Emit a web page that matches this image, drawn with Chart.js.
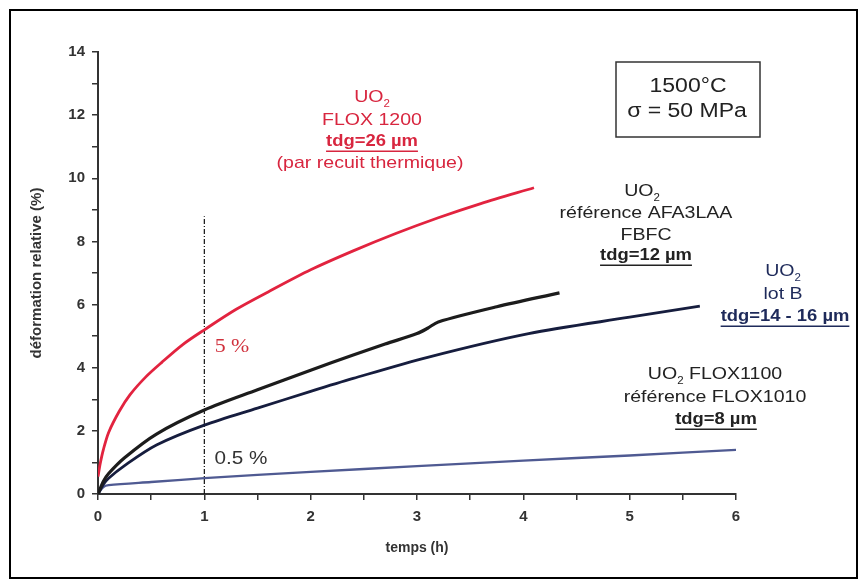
<!DOCTYPE html>
<html lang="fr">
<head>
<meta charset="UTF-8">
<title>Fluage UO2 - 1500°C / 50 MPa</title>
<script src="https://cdn.jsdelivr.net/npm/chart.js"></script>
<style>
  html, body { margin: 0; padding: 0; background: #fff; }
  #wrap { width: 866px; height: 585px; position: relative; }
</style>
</head>
<body>
<div id="wrap"><canvas id="creep"></canvas></div>
<script>
// strain curves, time in hours, strain in %
const floxRedTime   = [0, 0.02, 0.05, 0.1, 0.2, 0.3, 0.45, 0.6, 0.8, 1.0, 1.3, 1.6, 2.0, 2.4, 2.8, 3.2, 3.6, 4.1];
const floxRedStrain = [0.55, 0.95, 1.4, 1.95, 2.62, 3.14, 3.71, 4.17, 4.74, 5.2, 5.85, 6.4, 7.1, 7.7, 8.25, 8.75, 9.2, 9.7];

const afaTime   = [0, 0.05, 0.1, 0.25, 0.55, 1.0, 1.5, 2.0, 2.4, 2.7, 3.0, 3.1, 3.2, 3.75, 4.34];
const afaStrain = [0, 0.4, 0.65, 1.15, 1.9, 2.66, 3.3, 3.92, 4.4, 4.75, 5.08, 5.25, 5.45, 5.93, 6.37];

const lotBTime   = [0, 0.05, 0.1, 0.25, 0.55, 1.0, 1.5, 2.0, 2.4, 3.1, 4.05, 5.0, 5.66];
const lotBStrain = [0, 0.3, 0.5, 0.9, 1.55, 2.18, 2.72, 3.25, 3.66, 4.33, 5.08, 5.6, 5.95];

const flox1100Time   = [0, 0.05, 0.1, 0.5, 1.0, 2.0, 3.0, 4.0, 5.0, 6.0];
const flox1100Strain = [0, 0.22, 0.28, 0.38, 0.5, 0.7, 0.88, 1.06, 1.22, 1.4];

// reading line at t = 1 h
const markerTime   = [1, 1];
const markerStrain = [0, 8.8];

const xTicks = [0, 1, 2, 3, 4, 5, 6];
const yTicks = [0, 2, 4, 6, 8, 10, 12, 14];

const pts = (xs, ys) => xs.map((x, i) => ({ x: x, y: ys[i] }));

const SANS = 'Arial, "Liberation Sans", sans-serif';
const SERIF = '"Times New Roman", "Liberation Serif", serif';
const SX = 1.15; // text is drawn slightly wide

function txt(ctx, text, cx, cy, o) {
  o = Object.assign({ size: 17, weight: 'normal', color: '#222', family: SANS, underline: false }, o);
  ctx.save();
  ctx.translate(cx, cy);
  ctx.scale(SX, 1);
  ctx.font = o.weight + ' ' + o.size + 'px ' + o.family;
  ctx.fillStyle = o.color;
  ctx.textAlign = 'center';
  ctx.textBaseline = 'middle';
  ctx.fillText(text, 0, 0);
  if (o.underline) {
    const w = ctx.measureText(text).width;
    ctx.strokeStyle = o.color;
    ctx.lineWidth = 1.4;
    ctx.beginPath();
    ctx.moveTo(-w / 2, o.size * 0.58);
    ctx.lineTo(w / 2, o.size * 0.58);
    ctx.stroke();
  }
  ctx.restore();
}

// "UO" + subscript 2 + optional trailing text, centred on cx
function uo2(ctx, cx, cy, rest, o) {
  o = Object.assign({ size: 17, color: '#222' }, o);
  ctx.save();
  ctx.translate(cx, cy);
  ctx.scale(SX, 1);
  ctx.fillStyle = o.color;
  ctx.textBaseline = 'middle';
  ctx.textAlign = 'left';
  const main = 'normal ' + o.size + 'px ' + SANS;
  const sub = 'normal ' + Math.round(o.size * 0.6) + 'px ' + SANS;
  ctx.font = main;
  const w1 = ctx.measureText('UO').width;
  const w3 = rest ? ctx.measureText(rest).width : 0;
  ctx.font = sub;
  const w2 = ctx.measureText('2').width;
  let x = -(w1 + w2 + w3) / 2;
  ctx.font = main;
  ctx.fillText('UO', x, 0);
  x += w1;
  ctx.font = sub;
  ctx.fillText('2', x, o.size * 0.4);
  x += w2;
  if (rest) {
    ctx.font = main;
    ctx.fillText(rest, x, 0);
  }
  ctx.restore();
}

const annotations = {
  id: 'annotations',
  afterDraw(chart) {
    const ctx = chart.ctx;
    ctx.save();
    // outer frame
    ctx.strokeStyle = '#000';
    ctx.lineWidth = 2;
    ctx.strokeRect(10, 10, 847, 568);
    // test conditions box
    ctx.lineWidth = 1.5;
    ctx.strokeStyle = '#333';
    ctx.strokeRect(616, 62, 144, 75);
    ctx.restore();

    txt(ctx, '1500°C', 688, 86, { size: 20 });
    txt(ctx, 'σ = 50 MPa', 687, 111, { size: 20 });

    const red = '#d8263f';
    uo2(ctx, 372, 97, '', { color: red });
    txt(ctx, 'FLOX 1200', 372, 120, { color: red });
    txt(ctx, 'tdg=26 µm', 372, 142, { size: 16, color: red, weight: 'bold', underline: true });
    txt(ctx, '(par recuit thermique)', 370, 163, { color: red });

    uo2(ctx, 642, 191, '');
    txt(ctx, 'référence AFA3LAA', 646, 213);
    txt(ctx, 'FBFC', 646, 235);
    txt(ctx, 'tdg=12 µm', 646, 256, { size: 16, weight: 'bold', underline: true });

    const navy = '#1e2a5a';
    uo2(ctx, 783, 271, '', { color: navy });
    txt(ctx, 'lot B', 783, 294, { color: navy });
    txt(ctx, 'tdg=14 - 16 µm', 785, 317, { size: 16, color: navy, weight: 'bold', underline: true });

    uo2(ctx, 715, 374, ' FLOX1100');
    txt(ctx, 'référence FLOX1010', 715, 397);
    txt(ctx, 'tdg=8 µm', 716, 420, { size: 16, weight: 'bold', underline: true });

    txt(ctx, '5 %', 232, 347, { size: 19, family: SERIF, color: '#d0303c' });
    txt(ctx, '0.5 %', 241, 459, { size: 18, color: '#333' });
  }
};

const lineStyle = (color, width) => ({
  borderColor: color,
  borderWidth: width,
  pointRadius: 0,
  fill: false,
  tension: 0.3
});

new Chart(document.getElementById('creep'), {
  type: 'line',
  data: {
    datasets: [
      Object.assign({ label: 'UO2 FLOX 1200', data: pts(floxRedTime, floxRedStrain) }, lineStyle('#e2233f', 2.8)),
      Object.assign({ label: 'UO2 AFA3LAA', data: pts(afaTime, afaStrain) }, lineStyle('#1c1c1c', 3.2)),
      Object.assign({ label: 'UO2 lot B', data: pts(lotBTime, lotBStrain) }, lineStyle('#161d3e', 2.8)),
      Object.assign({ label: 'UO2 FLOX1100', data: pts(flox1100Time, flox1100Strain) }, lineStyle('#4f5a92', 2.3)),
      {
        label: 't = 1 h',
        data: pts(markerTime, markerStrain),
        borderColor: '#111',
        borderWidth: 1.2,
        borderDash: [5, 2, 1, 2],
        pointRadius: 0,
        fill: false
      }
    ]
  },
  options: {
    responsive: true,
    maintainAspectRatio: false,
    animation: false,
    layout: { padding: { top: 52, right: 130, left: 0, bottom: 0 } },
    plugins: {
      legend: { display: false },
      tooltip: { enabled: false }
    },
    scales: {
      x: {
        type: 'linear',
        min: 0,
        max: 6,
        afterFit: s => { s.height = 91; },
        afterBuildTicks: s => {
          s.ticks = [];
          for (let v = 0; v <= 6; v += 0.5) s.ticks.push({ value: v });
        },
        border: { color: '#333', width: 2 },
        grid: { drawOnChartArea: false, drawTicks: true, tickLength: 6, color: '#333', lineWidth: 1.5 },
        ticks: {
          autoSkip: false,
          maxRotation: 0,
          padding: 8,
          color: '#333',
          font: { family: SANS, size: 15, weight: 'bold' },
          callback: v => xTicks.includes(v) ? String(v) : ''
        },
        title: {
          display: true,
          text: 'temps (h)',
          color: '#333',
          font: { family: SANS, size: 14, weight: 'bold' },
          padding: { top: 0, bottom: 28 }
        }
      },
      y: {
        min: 0,
        max: 14,
        afterFit: s => { s.width = 98; },
        afterBuildTicks: s => {
          s.ticks = [];
          for (let v = 0; v <= 14; v += 1) s.ticks.push({ value: v });
        },
        border: { color: '#333', width: 2 },
        grid: { drawOnChartArea: false, drawTicks: true, tickLength: 6, color: '#333', lineWidth: 1.5 },
        ticks: {
          autoSkip: false,
          padding: 7,
          color: '#333',
          font: { family: SANS, size: 15, weight: 'bold' },
          callback: v => yTicks.includes(v) ? String(v) : ''
        },
        title: {
          display: true,
          text: 'déformation relative (%)',
          color: '#333',
          font: { family: SANS, size: 15, weight: 'bold' },
          padding: { top: 28, bottom: 0 }
        }
      }
    }
  },
  plugins: [annotations]
});
</script>
</body>
</html>
